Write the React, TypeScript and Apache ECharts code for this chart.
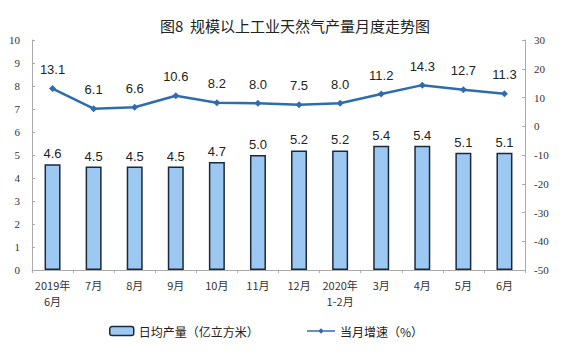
import React, { useEffect, useRef } from "react";
import * as echarts from "echarts";

const categories = ["2019年\n6月", "7月", "8月", "9月", "10月", "11月", "12月", "2020年\n1-2月", "3月", "4月", "5月", "6月"];
const dailyOutput = [4.6, 4.5, 4.5, 4.5, 4.7, 5.0, 5.2, 5.2, 5.4, 5.4, 5.1, 5.1];
const growthRate = [13.1, 6.1, 6.6, 10.6, 8.2, 8.0, 7.5, 8.0, 11.2, 14.3, 12.7, 11.3];

export default function App() {
  const ref = useRef<HTMLDivElement>(null);
  useEffect(() => {
    const chart = echarts.init(ref.current!, undefined, { renderer: "svg" });
    const legendText = { fontSize: 12, color: "#222", fontFamily: "Noto Sans CJK SC" };
    chart.setOption({
      animation: false,
      backgroundColor: "#ffffff",
      title: {
        text: "图8  规模以上工业天然气产量月度走势图",
        left: 290,
        textAlign: "center",
        top: 13,
        textStyle: { fontSize: 15, fontWeight: "normal", color: "#222", fontFamily: "Noto Sans CJK SC" },
      },
      grid: { left: 32, right: 39, top: 40, bottom: 87 },
      legend: [
        {
          top: 320,
          left: 104,
          itemWidth: 24,
          itemHeight: 9,
          itemGap: 4,
          textStyle: legendText,
          data: [
            { name: "日均产量（亿立方米）", itemStyle: { color: "#9DC8F2", borderColor: "#1a2a3a", borderWidth: 1.5 } },
          ],
        },
        {
          top: 320,
          left: 302,
          itemWidth: 28,
          itemHeight: 10,
          textStyle: legendText,
          data: [
            { name: "当月增速（%）", icon: "path://M0,4.2 L30,4.2 L30,5.8 L0,5.8 Z M15,2 L18,5 L15,8 L12,5 Z", itemStyle: { color: "#2F6CAE" } },
          ],
        },
      ],
      xAxis: {
        type: "category",
        data: categories,
        axisLine: { lineStyle: { color: "#aaa" } },
        axisTick: { show: true, inside: false, length: 3, lineStyle: { color: "#aaa" } },
        axisLabel: { interval: 0, fontSize: 11, color: "#333", lineHeight: 16, margin: 7, fontFamily: "Noto Sans CJK SC" },
      },
      yAxis: [
        {
          type: "value",
          min: 0,
          max: 10,
          interval: 1,
          splitLine: { show: false },
          axisLine: { show: true, lineStyle: { color: "#aaa" } },
          axisTick: { show: true, inside: true, length: 3, lineStyle: { color: "#aaa" } },
          axisLabel: { fontSize: 11, color: "#333", fontFamily: "Liberation Serif", margin: 12 },
        },
        {
          type: "value",
          min: -50,
          max: 30,
          interval: 10,
          splitLine: { show: false },
          axisLine: { show: true, lineStyle: { color: "#aaa" } },
          axisTick: { show: true, inside: true, length: 3, lineStyle: { color: "#aaa" } },
          axisLabel: { fontSize: 11, color: "#333", fontFamily: "Liberation Serif", margin: 9 },
        },
      ],
      series: [
        {
          name: "日均产量（亿立方米）",
          type: "bar",
          data: dailyOutput,
          barWidth: 16,
          itemStyle: { color: "#9DC8F2", borderColor: "#1a2a3a", borderWidth: 1.5 },
          label: {
            show: true,
            position: "top",
            fontSize: 13,
            color: "#222",
            fontFamily: "Liberation Sans",
            distance: 4,
            formatter: (p: any) => Number(p.value).toFixed(1),
          },
        },
        {
          name: "当月增速（%）",
          type: "line",
          yAxisIndex: 1,
          data: growthRate,
          color: "#2F6CAE",
          symbol: "diamond",
          symbolSize: 7,
          lineStyle: { width: 2.5, color: "#2F6CAE" },
          itemStyle: { color: "#2F6CAE" },
          label: {
            show: true,
            position: "top",
            fontSize: 13,
            color: "#222",
            fontFamily: "Liberation Sans",
            distance: 9,
            formatter: (p: any) => Number(p.value).toFixed(1),
          },
        },
      ],
    });
    return () => chart.dispose();
  }, []);
  return <div ref={ref} style={{ width: 564, height: 357, position: "absolute", left: 0, top: 0 }} />;
}
